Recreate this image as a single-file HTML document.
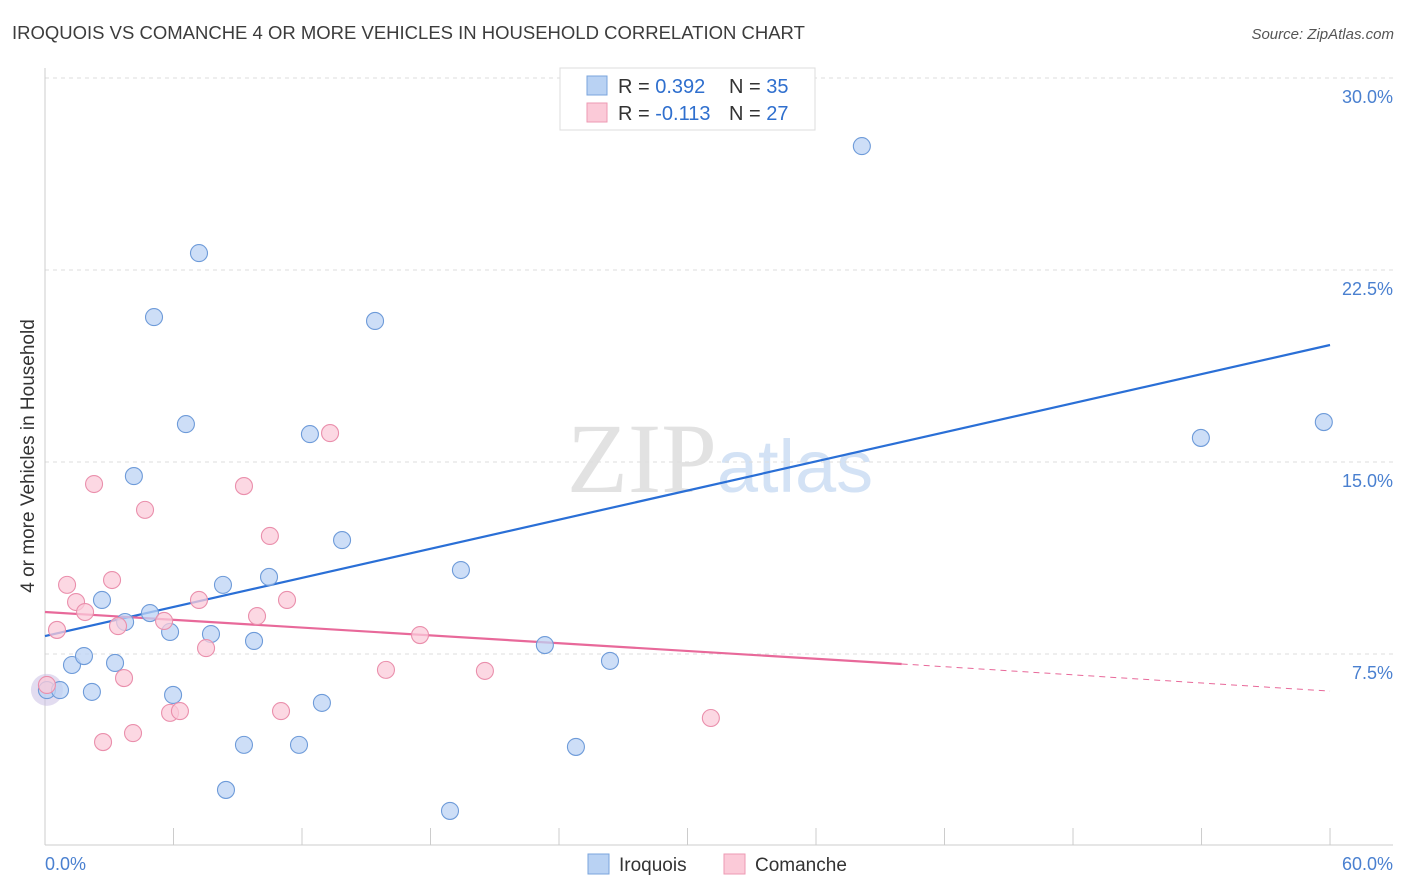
<!DOCTYPE html>
<html><head><meta charset="utf-8"><style>
body{margin:0;background:#fff;font-family:"Liberation Sans",sans-serif;}
svg{display:block}
</style></head><body>
<svg id="chart" width="1406" height="892" xmlns="http://www.w3.org/2000/svg" font-family="Liberation Sans, sans-serif">
<text x="12" y="39" font-size="18.5" fill="#3c3c3c">IROQUOIS VS COMANCHE 4 OR MORE VEHICLES IN HOUSEHOLD CORRELATION CHART</text>
<text x="1394" y="39" font-size="15" fill="#555" text-anchor="end" font-style="italic">Source: ZipAtlas.com</text>
<text x="720" y="492" font-size="100" fill="#e2e2e2" text-anchor="middle" font-family="Liberation Serif, serif">ZIP<tspan fill="#d3e2f5" font-family="Liberation Sans, sans-serif" font-size="74">atlas</tspan></text>
<text transform="translate(34,456) rotate(-90)" font-size="19" fill="#333" text-anchor="middle">4 or more Vehicles in Household</text>
<g id="grid"></g><g id="axes"></g><g id="lines"></g><g id="points"></g>
<g>
<rect x="560" y="68" width="255" height="62" fill="#fff" stroke="#ddd"/>
<rect x="587" y="76" width="20" height="19" fill="#b9d2f3" stroke="#7aa4dd"/>
<rect x="587" y="103" width="20" height="19" fill="#fbcad8" stroke="#ee9ab3"/>
<text x="618" y="93" font-size="20" fill="#333">R = <tspan fill="#2f6fce">0.392</tspan></text>
<text x="729" y="93" font-size="20" fill="#333">N = <tspan fill="#2f6fce">35</tspan></text>
<text x="618" y="120" font-size="20" fill="#333">R = <tspan fill="#2f6fce">-0.113</tspan></text>
<text x="729" y="120" font-size="20" fill="#333">N = <tspan fill="#2f6fce">27</tspan></text>
</g>
<g>
<rect x="588" y="854" width="21" height="20" fill="#b9d2f3" stroke="#7aa4dd"/>
<text x="619" y="871" font-size="19" fill="#333">Iroquois</text>
<rect x="724" y="854" width="21" height="20" fill="#fbcad8" stroke="#ee9ab3"/>
<text x="755" y="871" font-size="19" fill="#333">Comanche</text>
</g>
</svg>
<script>
const yTicks=[7.5,15,22.5,30];
const yTickLabels=["7.5%","15.0%","22.5%","30.0%"];
const xTickVals=[6,12,18,24,30,36,42,48,54,60];
const iroquoisX=[0.09,0.70,1.26,1.82,2.19,2.66,3.27,3.74,4.15,4.90,5.09,5.84,5.98,6.58,7.19,7.75,8.31,8.45,9.29,9.76,10.46,11.86,12.37,12.93,13.87,15.41,18.91,19.42,23.34,24.79,26.38,38.14,53.97,59.71];
const iroquoisY=[6.09,6.09,7.07,7.42,6.02,9.61,7.15,8.75,14.45,9.10,20.66,8.36,5.90,16.48,23.16,8.28,10.20,2.19,3.95,8.01,10.51,3.95,16.09,5.59,11.95,20.51,1.37,10.78,7.85,3.87,7.23,27.34,15.94,16.56];
const comancheX=[0.09,0.56,1.03,1.45,1.87,2.29,2.71,3.13,3.41,3.69,4.11,4.67,5.56,5.84,6.30,7.19,7.52,9.29,9.90,10.50,11.02,11.30,13.31,15.92,17.51,20.54,31.09];
const comancheY=[6.29,8.44,10.20,9.53,9.14,14.14,4.06,10.39,8.59,6.56,4.41,13.13,8.79,5.20,5.27,9.61,7.73,14.06,8.98,12.11,5.27,9.61,16.13,6.88,8.24,6.84,5.00];
const blueTrend=[0,8.20,60,19.57];
const pinkTrend=[0,9.14,40,7.11,60,6.05];
const NS="http://www.w3.org/2000/svg";
const X=v=>45+v*21.417, Y=v=>846-v*25.6;
function mk(t,a,p){const e=document.createElementNS(NS,t);for(const k in a)e.setAttribute(k,a[k]);p.appendChild(e);return e;}
const grid=document.getElementById('grid'),axes=document.getElementById('axes'),lines=document.getElementById('lines'),pts=document.getElementById('points');
yTicks.forEach((v,i)=>{
 const l=mk('line',{x1:45,x2:1393,y1:Y(v),y2:Y(v),stroke:'#ddd','stroke-dasharray':'4,4'},grid);
 
 
 const t=mk('text',{x:1393,y:Y(v)+25,'font-size':18,fill:'#4a80d0','text-anchor':'end'},grid);
 t.textContent=yTickLabels[i];
 
 
});
const ya=mk('line',{x1:45,x2:45,y1:68,y2:845,stroke:'#ccc'},axes);


const xa=mk('line',{x1:45,x2:1393,y1:845,y2:845,stroke:'#ccc'},axes);


xTickVals.forEach(v=>{
 const t=mk('line',{x1:X(v),x2:X(v),y1:828,y2:845,stroke:'#ccc'},axes);
 
 
});
[["0.0%",45,'start'],["60.0%",1393,'end']].forEach(a=>{
 const t=mk('text',{x:a[1],y:870,'font-size':18,fill:'#4a80d0','text-anchor':a[2]},axes);
 t.textContent=a[0];
 
 
});
function dot(x,y,fill,stroke,name){
 const c=mk('circle',{cx:X(x),cy:Y(y),r:8.5,fill:fill,stroke:stroke,'stroke-width':1.1,'fill-opacity':0.75},pts);
 
 
}
const big=mk('circle',{cx:X(0.09),cy:Y(6.1),r:16,fill:'#cbbfe3','fill-opacity':0.55},pts);


iroquoisX.forEach((x,i)=>dot(x,iroquoisY[i],'#bcd3f4','#6e9bd9','iroquois-point'));
comancheX.forEach((x,i)=>dot(x,comancheY[i],'#fbcbda','#ea8fac','comanche-point'));
const bl=mk('line',{x1:X(blueTrend[0]),y1:Y(blueTrend[1]),x2:X(blueTrend[2]),y2:Y(blueTrend[3]),stroke:'#2a6fd6','stroke-width':2.2},lines);


const pl=mk('line',{x1:X(pinkTrend[0]),y1:Y(pinkTrend[1]),x2:X(pinkTrend[2]),y2:Y(pinkTrend[3]),stroke:'#e8699a','stroke-width':2.2},lines);


const pd=mk('line',{x1:X(pinkTrend[2]),y1:Y(pinkTrend[3]),x2:X(pinkTrend[4]),y2:Y(pinkTrend[5]),stroke:'#e8699a','stroke-width':1,'stroke-dasharray':'6,5'},lines);


</script>
</body></html>
